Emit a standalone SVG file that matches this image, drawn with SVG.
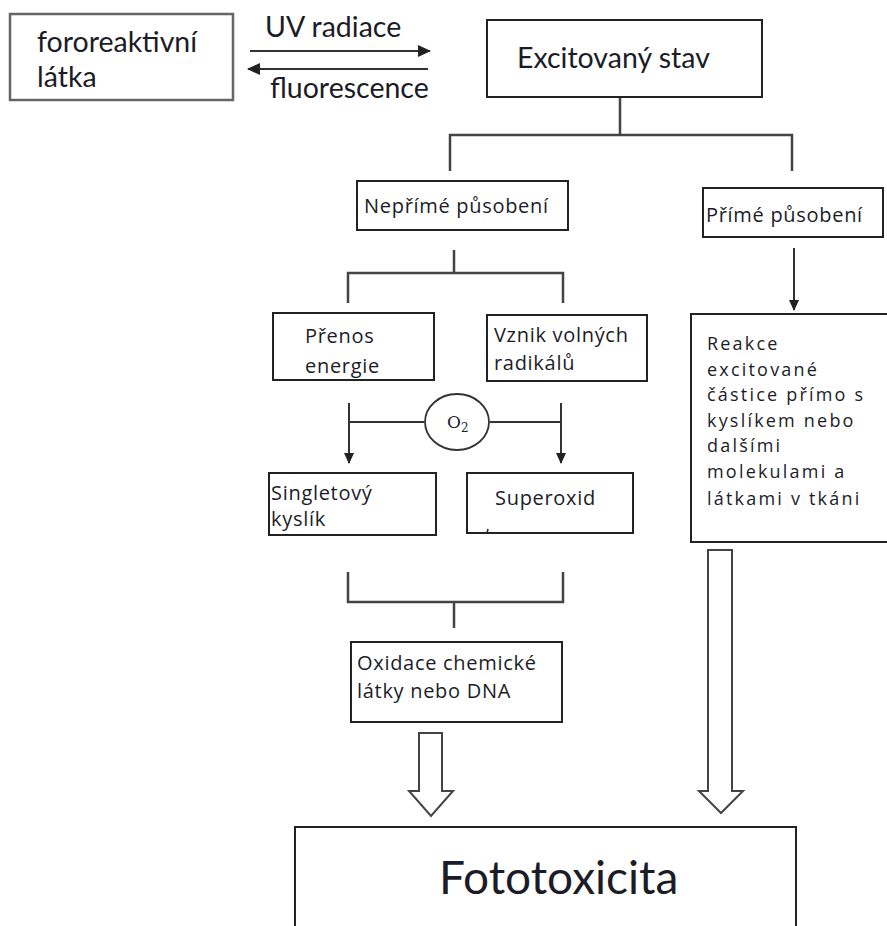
<svg xmlns="http://www.w3.org/2000/svg" width="887" height="926" viewBox="0 0 887 926">
<style>
  text { font-family: Lato, "Liberation Sans", sans-serif; fill: #1c1c28; }
  .big { font-size: 28.5px; }
  .sm { font-family: "Open Sans", "Liberation Sans", sans-serif; font-size: 20px; letter-spacing: 0.7px; }
  .wide { font-size: 18px; letter-spacing: 2.2px; }
  .box { fill: #fff; stroke: #222; stroke-width: 2; }
  .gbox { fill: #fff; stroke: #666; stroke-width: 2.5; }
  .ln { fill: none; stroke: #444; stroke-width: 2.5; }
  .thin { fill: none; stroke: #333; stroke-width: 2; }
  .blk { fill: #fff; stroke: #444; stroke-width: 2; stroke-linejoin: miter; }
</style>
<defs>
  <marker id="ah" markerWidth="12" markerHeight="12" refX="10" refY="6" orient="auto" markerUnits="userSpaceOnUse">
    <path d="M0,1 L11,6 L0,11 Z" fill="#222"/>
  </marker>
  <marker id="ahs" markerWidth="14" markerHeight="14" refX="12" refY="7" orient="auto" markerUnits="userSpaceOnUse">
    <path d="M0,1 L13,7 L0,13 Z" fill="#222"/>
  </marker>
</defs>
<rect width="887" height="926" fill="#fff"/>

<g id="connectors">
  <line class="thin" x1="250" y1="51" x2="430" y2="51" marker-end="url(#ahs)"/>
  <line class="thin" x1="428" y1="69" x2="248" y2="69" marker-end="url(#ahs)"/>
  <path class="ln" d="M620,97 V135 M450,171 V135 H792 V171"/>
  <path class="ln" d="M454,250 V273 M348,303 V273 H563 V303"/>
  <line class="thin" x1="794" y1="248" x2="794" y2="310" marker-end="url(#ah)"/>
  <line class="thin" x1="349" y1="403" x2="349" y2="463" marker-end="url(#ah)"/>
  <line class="thin" x1="349" y1="422" x2="424" y2="422"/>
  <line class="thin" x1="561" y1="403" x2="561" y2="463" marker-end="url(#ah)"/>
  <line class="thin" x1="490" y1="422" x2="561" y2="422"/>
  <path class="ln" d="M348,572 V602 H563 V572 M454,602 V628"/>
  <polygon class="blk" points="419,733 442,733 442,791 453,791 431,816 409,791 419,791"/>
  <polygon class="blk" points="708,550 732,550 732,791 743,791 721,813 699,791 708,791"/>
</g>

<g id="fororeaktivni">
  <rect class="gbox" x="10" y="14" width="223" height="86"/>
  <text class="big" x="37" y="52">fororeaktivní</text>
  <text class="big" x="37" y="87">látka</text>
</g>
<g id="uv-label"><text class="big" x="265" y="37">UV radiace</text></g>
<g id="fluor-label"><text class="big" x="270" y="98">fluorescence</text></g>

<g id="excitovany">
  <rect class="box" x="487" y="20" width="275" height="77"/>
  <text class="big" x="517" y="68">Excitovaný stav</text>
</g>

<g id="neprime">
  <rect class="box" x="357" y="181" width="211" height="49"/>
  <text class="sm" x="364" y="213">Nepřímé působení</text>
</g>

<g id="prime">
  <rect class="box" x="703" y="188" width="180" height="49"/>
  <text class="sm" x="706" y="222">Přímé působení</text>
</g>

<g id="prenos">
  <rect class="box" x="273" y="313" width="161" height="67"/>
  <text class="sm" x="305" y="343">Přenos</text>
  <text class="sm" x="305" y="373">energie</text>
</g>

<g id="vznik">
  <rect class="box" x="487" y="315" width="160" height="66"/>
  <text class="sm" x="494" y="342">Vznik volných</text>
  <text class="sm" x="494" y="370">radikálů</text>
</g>

<g id="o2">
  <ellipse cx="457" cy="422" rx="32" ry="28" fill="#fff" stroke="#333" stroke-width="1.8"/>
  <text x="447" y="428" style="font-family:'DejaVu Serif','Liberation Serif',serif;font-size:17px">O<tspan font-size="12" dy="4">2</tspan></text>
</g>

<g id="singlet">
  <rect class="box" x="269" y="473" width="167" height="62"/>
  <text class="sm" x="271" y="500">Singletový</text>
  <text class="sm" x="271" y="526">kyslík</text>
</g>

<g id="superoxid">
  <rect class="box" x="467" y="473" width="166" height="60"/>
  <text class="sm" x="495" y="505">Superoxid</text>
  <line x1="488" y1="529" x2="487" y2="533" stroke="#223" stroke-width="1.5"/>
</g>

<g id="oxidace">
  <rect class="box" x="351" y="642" width="211" height="80"/>
  <text class="sm" x="357" y="670">Oxidace chemické</text>
  <text class="sm" x="357" y="698">látky nebo DNA</text>
</g>

<g id="reakce">
  <rect class="box" x="691" y="314" width="200" height="228"/>
  <text class="sm wide" x="707" y="350">Reakce</text>
  <text class="sm wide" x="707" y="376">excitované</text>
  <text class="sm wide" x="707" y="401">částice přímo s</text>
  <text class="sm wide" x="707" y="427">kyslíkem nebo</text>
  <text class="sm wide" x="707" y="452">dalšími</text>
  <text class="sm wide" x="707" y="478">molekulami a</text>
  <text class="sm wide" x="707" y="505">látkami v tkáni</text>
</g>

<g id="fototoxicita">
  <rect class="box" x="295" y="827" width="501" height="120"/>
  <text x="439" y="894" style="font-size:46px">Fototoxicita</text>
</g>
</svg>
